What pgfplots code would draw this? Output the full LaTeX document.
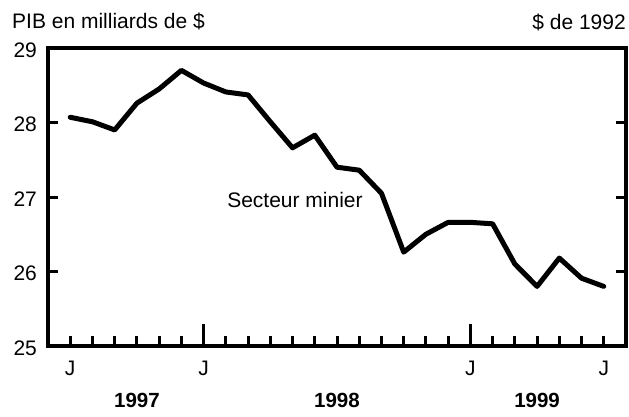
\documentclass[border=0pt]{standalone}
\usepackage{fontspec}
\setmainfont{Liberation Sans}
\usepackage{pgfplots}
\pgfplotsset{compat=1.18}
\pgfplotstableread{
m v
0 28.07
1 28.01
2 27.90
3 28.26
4 28.45
5 28.70
6 28.53
7 28.41
8 28.37
9 28.01
10 27.66
11 27.83
12 27.40
13 27.36
14 27.05
15 26.26
16 26.50
17 26.66
18 26.66
19 26.64
20 26.10
21 25.80
22 26.18
23 25.91
24 25.80
}\datatable
\begin{document}
\begin{tikzpicture}[font=\fontsize{21}{25}\selectfont]
\path[use as bounding box] (0,0) rectangle (629pt,416pt);
\begin{axis}[
  at={(48pt,70pt)}, anchor=south west,
  scale only axis, width=578pt, height=298pt,
  xmin=-1, xmax=25, ymin=25, ymax=29,
  axis line style={line width=3.5pt, line cap=rect},
  every axis/.append style={line width=3.5pt},
  tick style={line width=3pt, black},
  tick align=inside,
  major tick length=10pt,
  xtick={0,...,24},
  xticklabels={J,,,,,,J,,,,,,,,,,,,J,,,,,,J},
  xtick pos=bottom,
  extra x ticks={6,18},
  extra x tick labels={},
  extra x tick style={major tick length=22pt, xtick pos=bottom},
  ytick={25,26,27,28,29},
  ytick pos=both,
  yticklabel pos=left,
  /pgf/number format/assume math mode=true,
  tick label style={font=\fontsize{21}{25}\selectfont},
  xticklabel style={yshift=-10pt},
  yticklabel style={xshift=-6pt, yshift=-2pt},
  clip=false,
]
\addplot[black, line width=5pt, line join=round, line cap=round] table[x=m, y=v] {\datatable};
\node[font=\fontsize{21}{25}\selectfont] at (axis cs:10.11,26.96) {Secteur minier};
\node[font=\fontsize{20.5}{25}\selectfont\bfseries, yshift=-54pt] at (axis cs:3,25) {1997};
\node[font=\fontsize{20.5}{25}\selectfont\bfseries, yshift=-54pt] at (axis cs:12,25) {1998};
\node[font=\fontsize{20.5}{25}\selectfont\bfseries, yshift=-54pt] at (axis cs:21,25) {1999};
\end{axis}
\node[anchor=base west, inner sep=0pt] at (12pt,387pt) {PIB en milliards de \$};
\node[anchor=base east, inner sep=0pt] at (626pt,386pt) {\$ de 1992};
\end{tikzpicture}
\end{document}
